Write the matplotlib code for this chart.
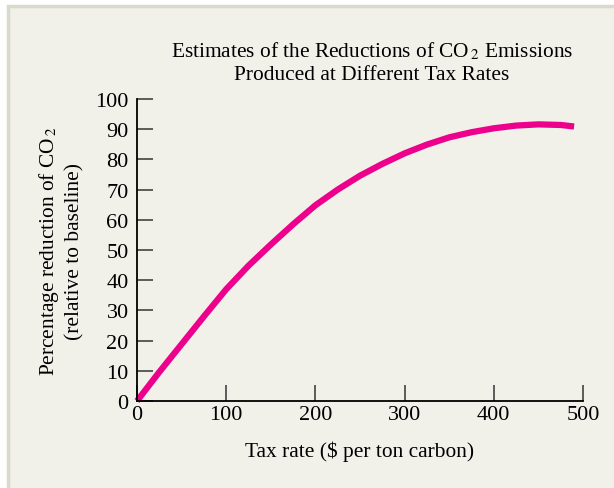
import matplotlib
matplotlib.use("Agg")
import matplotlib.pyplot as plt
from matplotlib.patches import Rectangle

# tax rate ($ per ton carbon) and percentage reduction of CO2
tax_rate = [0, 25, 50, 75, 100, 125, 150, 175, 200, 225, 250, 275, 300,
            325, 350, 375, 400, 425, 450, 475, 490]
reduction = [0, 9.6, 18.8, 28.0, 37.0, 44.8, 51.8, 58.5, 64.8, 70.0, 74.6,
             78.5, 82.0, 84.9, 87.3, 89.0, 90.3, 91.2, 91.6, 91.4, 90.9]
x_ticks = [0, 100, 200, 300, 400, 500]
y_ticks = [0, 10, 20, 30, 40, 50, 60, 70, 80, 90, 100]

plt.rcParams['font.family'] = ['Liberation Serif', 'DejaVu Serif']
plt.rcParams['mathtext.fontset'] = 'stix'

fig = plt.figure(figsize=(6.14, 4.89), dpi=100, facecolor='white')
W, H = 614, 489
# light panel with a thin border on the left and top
fig.patches.append(Rectangle((8 / W, -0.1), 1, 1.1 - 7 / H, transform=fig.transFigure,
                             facecolor='#f1f0e9', edgecolor='#d9d9cc', linewidth=2.5,
                             zorder=-10))

ax = fig.add_axes([137 / W, 1 - 402 / H, (583 - 137) / W, (402 - 100) / H])
ax.patch.set_visible(False)
ax.plot(tax_rate, reduction, color='#ec008c', linewidth=4.5, solid_capstyle='butt',
        solid_joinstyle='round', clip_on=False)

ax.set_xlim(0, 500)
ax.set_ylim(0, 100)
ax.set_xticks(x_ticks)
ax.set_yticks(y_ticks)
ax.tick_params(direction='in', length=11.5, width=1.1, color='#333333', labelsize=16)
ax.tick_params(axis='y', pad=6)
ax.tick_params(axis='x', pad=3)
for s in ['top', 'right']:
    ax.spines[s].set_visible(False)
for s in ['left', 'bottom']:
    ax.spines[s].set_linewidth(1.3)

ax.set_xlabel('Tax rate ($ per ton carbon)', fontsize=15.4, labelpad=12)
ax.set_ylabel('Percentage reduction of CO$_{\\,2}$\n(relative to baseline)', fontsize=15.4,
              labelpad=8, linespacing=1.25)
fig.text(372 / W, 1 - 63 / H,
         'Estimates of the Reductions of CO$_{\\,2}$ Emissions\nProduced at Different Tax Rates',
         ha='center', va='center', fontsize=15.4, linespacing=1.25)

fig.savefig('out.png', dpi=100, facecolor=fig.get_facecolor())
